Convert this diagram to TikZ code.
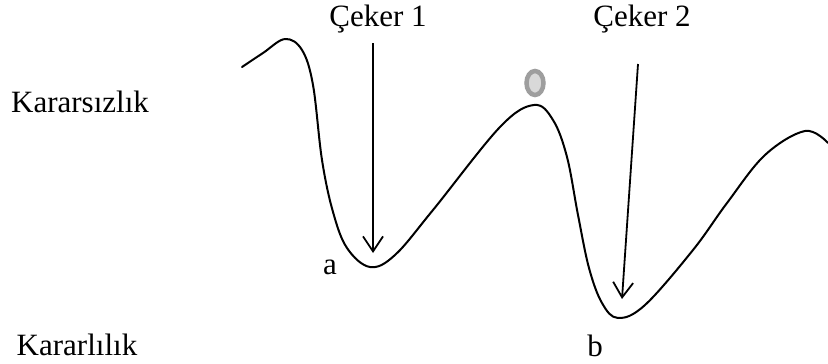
\documentclass[tikz,border=0pt]{standalone}
\usepackage{fontspec}
\setmainfont{Liberation Serif}
\usetikzlibrary{arrows.meta,shapes.geometric}
\begin{document}
\begin{tikzpicture}[x=1pt,y=-1pt,
  lbl/.style={font=\fontsize{31}{36}\selectfont, inner sep=0pt, anchor=base},
  curve/.style={line width=2pt, line cap=round, line join=round},
  pointer/.style={line width=1.8pt, -{Straight Barb[length=15pt,width=20pt,line width=1.8pt]}},
  ball/.style={ellipse, draw=black!38, fill=black!15, line width=4.5pt, inner sep=0pt, minimum width=17pt, minimum height=24pt}]
\useasboundingbox (0,0) rectangle (828,364);
% labels
\node[lbl] (unstable) at (80,112) {Kararsızlık};
\node[lbl] (stable) at (77,355) {Kararlılık};
\node[lbl] (c1) at (378,26) {Çeker 1};
\node[lbl] (c2) at (642,26) {Çeker 2};
\node[lbl] (a) at (330,274) {a};
\node[lbl] (b) at (595,356) {b};
% energy landscape
\draw[curve] plot[smooth, tension=0.6] coordinates {
  (242,67) (263,53) (285,39) (302,50) (313,85) (322,160)
  (333,212) (347,248) (370,267) (395,255) (433,210) (500,127)
  (534,105) (553,120) (567,157) (578,215) (589,268) (602,303) (618,318)
  (645,305) (693,250) (727,203) (765,155) (805,131) (828,143)};
% ball
\node[ball] (ballnode) at (535,83) {};
% arrows
\coordinate (t1) at (373,43);
\coordinate (h1) at (373,253);
\coordinate (t2) at (638,64);
\coordinate (h2) at (622,299);
\draw[pointer] (t1) -- (h1);
\draw[pointer] (t2) -- (h2);
\end{tikzpicture}
\end{document}
